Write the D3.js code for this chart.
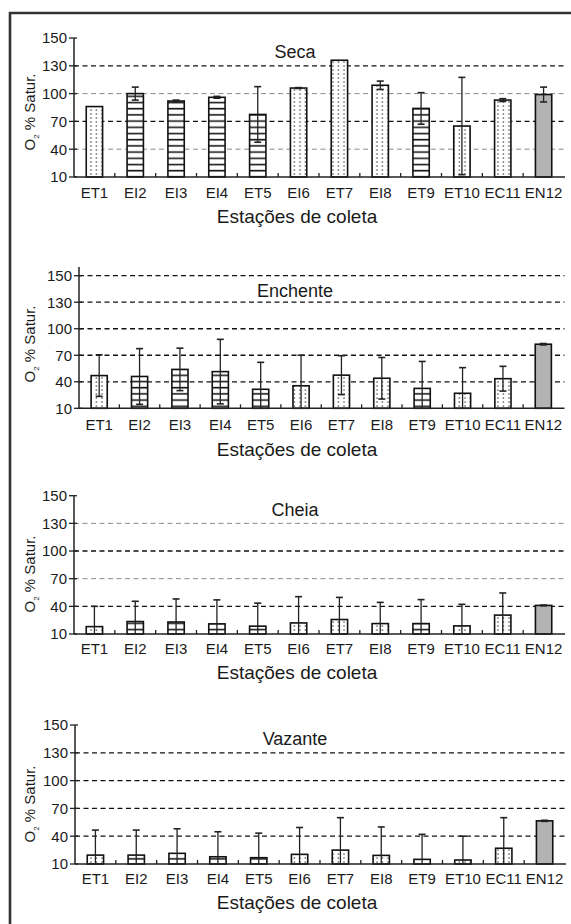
<!DOCTYPE html>
<html><head><meta charset="utf-8">
<script src="https://cdn.jsdelivr.net/npm/d3@7"></script>
<style>body{margin:0;background:#fff}svg{display:block}text{font-family:"Liberation Sans",Arial,sans-serif;fill:#1a1a1a}</style>
</head><body><svg id="c" width="571" height="924"></svg>
<script>
const categories = ["ET1","EI2","EI3","EI4","ET5","EI6","ET7","EI8","ET9","ET10","EC11","EN12"];
const fillType = ["dot","hline","hline","hline","hline","dot","dot","dot","hline","dot","dot","solid"];
const yTicks = [10,40,70,100,130,150];
const panelTitles = ["Seca","Enchente","Cheia","Vazante"];
const secaMean = [86,100,92,96,77.5,106,134,109,84,65,93,99];
const secaErr = [0,7,1,1,30,0.5,0,4.5,17,52.5,1.5,8];
const enchenteMean = [47,46,54,51.5,31.5,35.5,47.5,44,32.5,27,43.5,82.5];
const enchenteErr = [23.5,31.5,24,36.5,30.5,34.5,22,23.5,30.5,29,14,0.8];
const cheiaMean = [18,23.5,23,21,18.5,22,25.7,21.3,21.3,18.8,30.5,41];
const cheiaErr = [22,22,25,26,25,28.5,24,23,26,23.4,24,0.4];
const vazanteMean = [19.6,19.6,21.5,17.8,16.8,20.4,25,19.3,15,14.3,27,56.6];
const vazanteErr = [27,27,26.5,27,26.5,29,35,30.7,27,25.7,33,0.6];
const gridDark = [[130,70],[150,130,100,70,40],[100,40],[130,100,70,40]];
const gridLight = [[100,40],[],[130,70],[]];

const means = [secaMean, enchenteMean, cheiaMean, vazanteMean];
const errs = [secaErr, enchenteErr, cheiaErr, vazanteErr];

// layout (pixels)
const layout = [
  {x0:74, x1:564, top:38, bottom:177, axisTop:38, lab:193, xt:216, yt:112},
  {x0:79, x1:563.5, top:275.7, bottom:408.3, axisTop:267, lab:425, xt:449, yt:344},
  {x0:74, x1:564, top:495.7, bottom:634, axisTop:495.7, lab:649, xt:672, yt:574},
  {x0:75, x1:565, top:725, bottom:864, axisTop:725, lab:879, xt:902, yt:804}
];

const svg = d3.select("#c");
const defs = svg.append("defs");
const pd = defs.append("pattern").attr("id","dot").attr("patternUnits","userSpaceOnUse").attr("width",5.5).attr("height",4);
pd.append("rect").attr("width",5.5).attr("height",4).attr("fill","#fff");
pd.append("rect").attr("x",2.3).attr("y",1.4).attr("width",1.3).attr("height",1.3).attr("fill","#333");
const ph = defs.append("pattern").attr("id","hline").attr("patternUnits","userSpaceOnUse").attr("width",8).attr("height",6.2);
ph.append("rect").attr("width",8).attr("height",6.2).attr("fill","#fff");
ph.append("rect").attr("y",2.5).attr("width",8).attr("height",1.6).attr("fill","#1a1a1a");
const fillOf = t => t==="dot" ? "url(#dot)" : t==="hline" ? "url(#hline)" : "#b3b3b3";

// outer frame (top & left visible)
svg.append("path").attr("d","M10,924 L10,13 L571,13").attr("fill","none").attr("stroke","#333").attr("stroke-width",2.6);

layout.forEach((L,pi)=>{
  const g = svg.append("g");
  const n = yTicks.length;
  const y = d3.scaleLinear().domain(yTicks)
     .range(yTicks.map((d,i)=> L.bottom - (L.bottom-L.top)*i/(n-1))).clamp(true);
  const x = d3.scaleBand().domain(categories).range([L.x0, L.x1]).paddingInner(0.6).paddingOuter(0.3);

  // gridlines
  g.selectAll(".gd").data(gridDark[pi]).join("line")
    .attr("x1",L.x0).attr("x2",L.x1+1).attr("y1",d=>y(d)).attr("y2",d=>y(d))
    .attr("stroke","#111").attr("stroke-width",1.3).attr("stroke-dasharray","5,3.5");
  g.selectAll(".gl").data(gridLight[pi]).join("line")
    .attr("x1",L.x0).attr("x2",L.x1+1).attr("y1",d=>y(d)).attr("y2",d=>y(d))
    .attr("stroke","#8a8a8a").attr("stroke-width",1).attr("stroke-dasharray","5,3.5");

  // bars
  const data = categories.map((c,i)=>({c, m:means[pi][i], e:errs[pi][i], t:fillType[i]}));
  g.selectAll(".bar").data(data).join("rect")
    .attr("x",d=>x(d.c)).attr("width",x.bandwidth())
    .attr("y",d=>y(d.m)).attr("height",d=>y(10)-y(d.m))
    .attr("fill",d=>fillOf(d.t)).attr("stroke","#111").attr("stroke-width",1.6);

  // error bars
  const eb = data.filter(d=>d.e>0);
  const cx = d=> x(d.c)+x.bandwidth()/2;
  g.selectAll(".ev").data(eb).join("line")
    .attr("x1",cx).attr("x2",cx)
    .attr("y1",d=>y(d.m+d.e)).attr("y2",d=>y(Math.max(10,d.m-d.e)))
    .attr("stroke","#222").attr("stroke-width",1.3);
  g.selectAll(".ecu").data(eb).join("line")
    .attr("x1",d=>cx(d)-3.5).attr("x2",d=>cx(d)+3.5)
    .attr("y1",d=>y(d.m+d.e)).attr("y2",d=>y(d.m+d.e))
    .attr("stroke","#222").attr("stroke-width",1.6);
  g.selectAll(".ecl").data(eb.filter(d=>d.m-d.e>10)).join("line")
    .attr("x1",d=>cx(d)-3.5).attr("x2",d=>cx(d)+3.5)
    .attr("y1",d=>y(d.m-d.e)).attr("y2",d=>y(d.m-d.e))
    .attr("stroke","#222").attr("stroke-width",1.6);

  // axes
  g.append("line").attr("x1",L.x0).attr("x2",L.x0).attr("y1",L.axisTop).attr("y2",L.bottom)
    .attr("stroke","#222").attr("stroke-width",1.5);
  g.append("line").attr("x1",L.x0).attr("x2",L.x1+1).attr("y1",L.bottom).attr("y2",L.bottom)
    .attr("stroke","#222").attr("stroke-width",1.6);
  g.selectAll(".yt").data(yTicks).join("line")
    .attr("x1",L.x0-5).attr("x2",L.x0+3).attr("y1",d=>y(d)).attr("y2",d=>y(d))
    .attr("stroke","#222").attr("stroke-width",1.3);
  g.selectAll(".ytl").data(yTicks).join("text")
    .attr("x",L.x0-7).attr("y",d=>y(d)).attr("dy","0.36em").attr("text-anchor","end")
    .attr("font-size",15).text(d=>d);
  // x minor ticks at band boundaries
  const bounds = categories.slice(1).map(c=> x(c) - x.step()*x.paddingInner()/2);
  g.selectAll(".xt").data(bounds).join("line")
    .attr("x1",d=>d).attr("x2",d=>d).attr("y1",L.bottom).attr("y2",L.bottom-4)
    .attr("stroke","#222").attr("stroke-width",1.3);
  g.selectAll(".xtl").data(categories).join("text")
    .attr("x",d=>x(d)+x.bandwidth()/2).attr("y",L.lab).attr("dy","0.36em").attr("text-anchor","middle")
    .attr("font-size",15).text(d=>d);

  // titles
  g.append("text").attr("x",295).attr("y",(L.top+ (y(130)))/2 + (pi===1?2:0)).attr("dy","0.36em")
    .attr("text-anchor","middle").attr("font-size",18).text(panelTitles[pi]);
  g.append("text").attr("x",297).attr("y",L.xt).attr("dy","0.36em").attr("text-anchor","middle")
    .attr("font-size",19).text("Estações de coleta");
  const yl = g.append("text").attr("transform",`translate(30,${L.yt}) rotate(-90)`)
    .attr("text-anchor","middle").attr("dy","0.36em").attr("font-size",15);
  yl.append("tspan").text("O");
  yl.append("tspan").attr("font-size",8).attr("dy","0.45em").text("2");
  yl.append("tspan").attr("dy","-0.25em").text(" % Satur.");
});
</script></body></html>
